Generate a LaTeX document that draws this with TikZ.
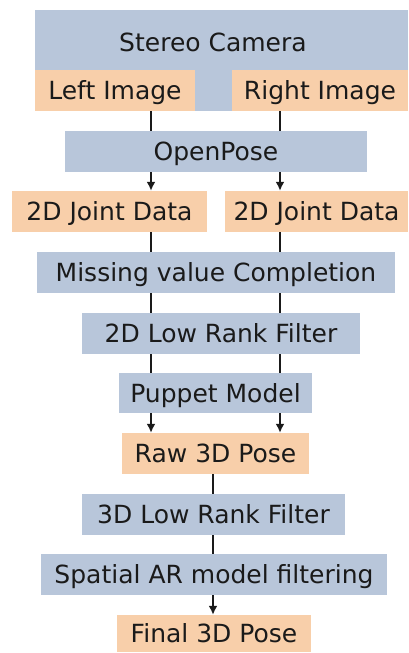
\documentclass[tikz,border=0pt]{standalone}
\usepackage{fontspec}
\setmainfont{DejaVu Sans}
\usetikzlibrary{arrows.meta}
\definecolor{procblue}{HTML}{B8C6DA}
\definecolor{dataorange}{HTML}{F8CFAA}
\definecolor{ink}{HTML}{1A1A1A}
\tikzset{
  box/.style={inner sep=0pt, minimum height=41pt, text height=18pt, text depth=0pt,
    font=\fontsize{25}{30}\selectfont, text=ink},
  proc/.style={box, fill=procblue},
  data/.style={box, fill=dataorange},
  link/.style={line width=2.4pt, ink},
  flow/.style={link, -{Latex[length=9pt,width=9pt]}}
}
\begin{document}
\begin{tikzpicture}[x=1pt,y=-1pt]
\useasboundingbox (0,0) rectangle (409,653);
% camera block with the two image outputs inside
\node[proc, minimum width=373pt, minimum height=101pt] (cam) at (221.5,60.5) {};
\node[box] (camtext) at (213,42.5) {Stereo Camera};
\node[data, minimum width=160pt] (li) at (115,90.5) {Left Image};
\node[data, minimum width=176pt] (ri) at (320,90.5) {Right Image};
% processing chain
\node[proc, minimum width=302pt] (op) at (216,151.5) {OpenPose};
\node[data, minimum width=195pt] (jl) at (109.5,211.5) {2D Joint Data};
\node[data, minimum width=183pt] (jr) at (316.5,211.5) {2D Joint Data};
\node[proc, minimum width=358pt] (mv) at (216,272.5) {Missing value Completion};
\node[proc, minimum width=278pt] (lr2) at (221,333.5) {2D Low Rank Filter};
\node[proc, minimum width=193pt, minimum height=40pt] (pm) at (215.5,393) {Puppet Model};
\node[data, minimum width=187pt] (raw) at (215.5,453.5) {Raw 3D Pose};
\node[proc, minimum width=263pt] (lr3) at (213.5,514.5) {3D Low Rank Filter};
\node[proc, minimum width=346pt] (ar) at (214,574.5) {Spatial AR model filtering};
\node[data, minimum width=194pt, minimum height=37pt] (fin) at (214,633.5) {Final 3D Pose};
% columns of the left, right and merged streams
\coordinate (cl) at (151,0);
\coordinate (cr) at (280,0);
\coordinate (cm) at (213,0);
% left stream
\draw[link] (li.south -| cl) -- (op.north -| cl);
\draw[flow] (op.south -| cl) -- (jl.north -| cl);
\draw[link] (jl.south -| cl) -- (mv.north -| cl);
\draw[link] (mv.south -| cl) -- (lr2.north -| cl);
\draw[link] (lr2.south -| cl) -- (pm.north -| cl);
\draw[flow] (pm.south -| cl) -- (raw.north -| cl);
% right stream
\draw[link] (ri.south -| cr) -- (op.north -| cr);
\draw[flow] (op.south -| cr) -- (jr.north -| cr);
\draw[link] (jr.south -| cr) -- (mv.north -| cr);
\draw[link] (mv.south -| cr) -- (lr2.north -| cr);
\draw[link] (lr2.south -| cr) -- (pm.north -| cr);
\draw[flow] (pm.south -| cr) -- (raw.north -| cr);
% merged 3D stream
\draw[link] (raw.south -| cm) -- (lr3.north -| cm);
\draw[link] (lr3.south -| cm) -- (ar.north -| cm);
\draw[flow] (ar.south -| cm) -- (fin.north -| cm);
\end{tikzpicture}
\end{document}
